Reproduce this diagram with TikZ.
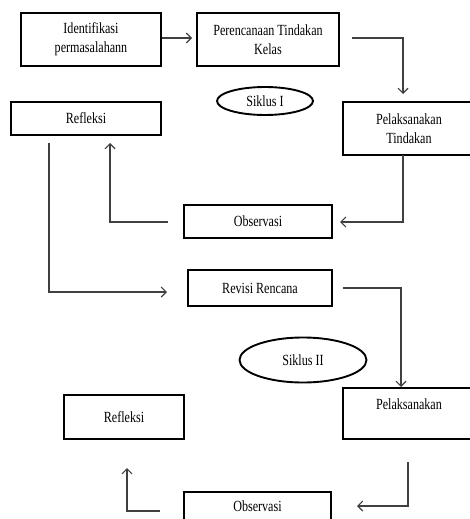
\documentclass[tikz,border=0pt]{standalone}
\usepackage{fontspec}
\setmainfont[FakeStretch=0.78]{Liberation Serif}
\usetikzlibrary{arrows.meta,shapes.geometric}
\begin{document}
\begin{tikzpicture}[x=1pt,y=-1pt,
  box/.style={draw=black,line width=1.9pt,rectangle,inner sep=0pt,align=center,
    font=\fontsize{15.5}{19}\selectfont},
  oval/.style={draw=black,line width=1.9pt,ellipse,inner sep=0pt,
    font=\fontsize{15.5}{19}\selectfont},
  conn/.style={draw=black!75,line width=1.1pt,-{Straight Barb[length=5pt,width=10pt]}},
  lbl/.style={inner sep=0pt,font=\fontsize{15.5}{19}\selectfont}]
\useasboundingbox (0,0) rectangle (470,519);
\fill[white] (0,0) rectangle (470,519);
% nodes
\node[box,minimum width=140pt,minimum height=53pt] (id) at (91,39.5) {Identifikasi\\permasalahann};
\node[box,minimum width=142pt,minimum height=53pt] (plan) at (268,39.5) {Perencanaan Tindakan\\Kelas};
\node[box,minimum width=132pt,minimum height=53pt] (pel1) at (409,128.5) {Pelaksanakan\\Tindakan};
\node[oval,minimum width=96pt,minimum height=28pt] (sik1) at (265,101) {Siklus I};
\node[box,minimum width=150pt,minimum height=33pt] (ref1) at (86,118.5) {Refleksi};
\node[box,minimum width=148pt,minimum height=33pt] (obs1) at (258,221.5) {Observasi};
\node[box,minimum width=144pt,minimum height=36pt] (rev) at (260,288) {Revisi Rencana};
\node[oval,minimum width=127pt,minimum height=45pt] (sik2) at (303,360) {Siklus II};
\node[box,minimum width=120pt,minimum height=44pt] (ref2) at (124,417) {Refleksi};
\node[box,minimum width=132pt,minimum height=51pt] (pel2) at (409,413.5) {};
\node[lbl] (pel2t) at (409,404) {Pelaksanakan};
\begin{scope}
  \clip (343,388) rectangle (475,438.2);
  \node[lbl] (pel2u) at (409,445) {Tindakan};
\end{scope}
\node[box,minimum width=147pt,minimum height=44pt] (obs2) at (257.5,514) {};
\node[lbl] (obs2t) at (257.5,506) {Observasi};
% connector anchor points
\coordinate (a1) at (352,38);
\coordinate (a2) at (403,155);
\coordinate (a3) at (168,222);
\coordinate (a4) at (49,143);
\coordinate (a5) at (343,288);
\coordinate (a6) at (408,462);
\coordinate (a7) at (160,511);
% connectors
\draw[conn,shorten >=4pt] (id.east |- 0,38) -- (plan.west |- 0,38);
\draw[conn] (a1) -| (403,94);
\draw[conn] (a2) |- (340,222);
\draw[conn] (a3) -| (110,143);
\draw[conn] (a4) |- (167,292);
\draw[conn] (a5) -| (401,387);
\draw[conn] (a6) |- (357,506);
\draw[conn] (a7) -| (127,468);
\end{tikzpicture}
\end{document}
